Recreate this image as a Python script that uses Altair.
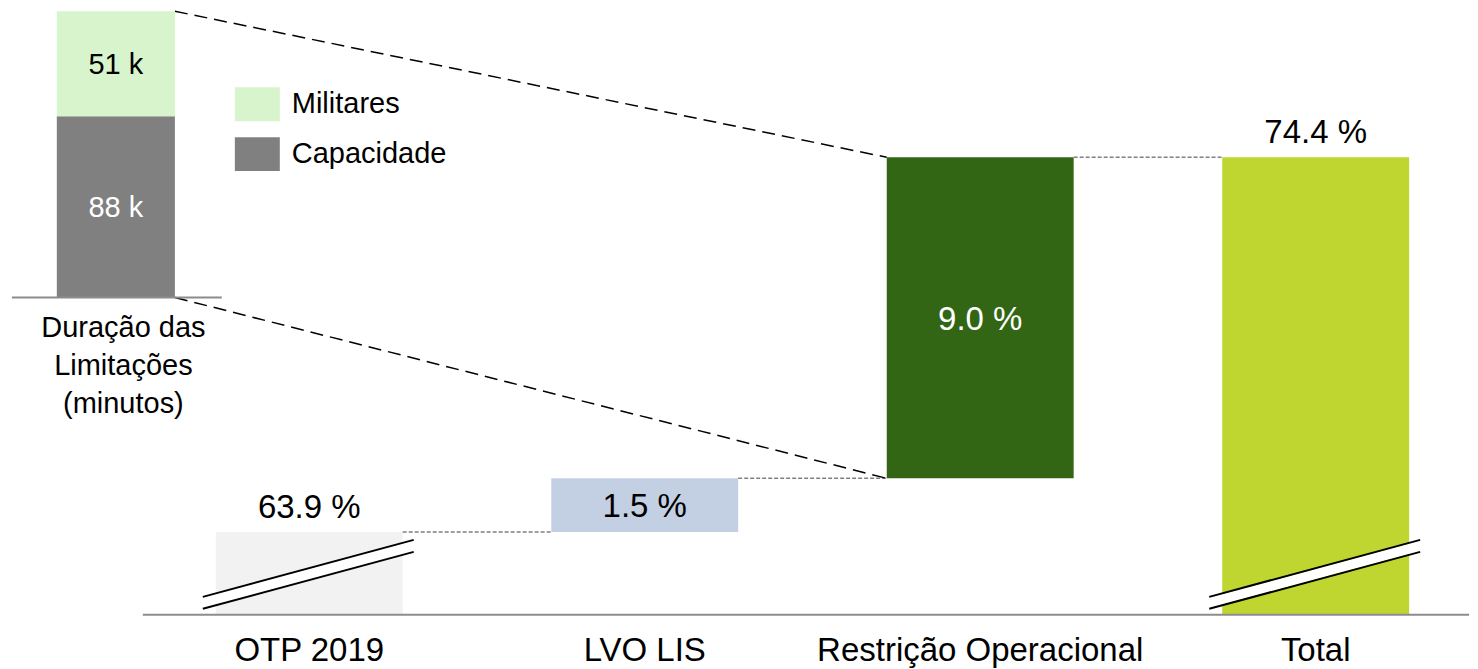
import altair as alt
import pandas as pd

# ---------------- data ----------------
categories = ["OTP 2019", "LVO LIS", "Restrição Operacional", "Total"]
values = [63.9, 1.5, 9.0, 74.4]
kinds = ["total", "delta", "delta", "total"]
value_labels = ["63.9 %", "1.5 %", "9.0 %", "74.4 %"]
label_modes = ["above", "inside", "inside", "above"]
label_colors = ["#000000", "#000000", "#ffffff", "#000000"]
bar_colors = ["#f2f2f2", "#c3cfe2", "#336614", "#bfd630"]
broken = [True, False, False, True]

limit_title = "Duração das\nLimitações\n(minutos)"
limit_segments = ["Capacidade", "Militares"]
limit_values = [88, 51]
limit_labels = ["88 k", "51 k"]
limit_label_colors = ["#ffffff", "#000000"]
limit_colors = ["#808080", "#d8f4cc"]
legend_order = ["Militares", "Capacidade"]

# ---------------- layout ----------------
W, H = 1462, 653
FONT = "Liberation Sans Narrow, Arial Narrow, Liberation Sans, sans-serif"
BIG, SMALL = 33, 29
X_DOM = [-0.898, 3.457]     # category slot scale
Y_DOM = [60.287, 78.578]    # main % scale (broken axis)
L_DOM = [-176.4, 140.47]    # left panel scale (k minutes)
BASE = 61.575               # value where the broken axis sits
HW = 0.2786                 # half bar width (main)
LX, LHW = -0.5765, 0.176    # left bar centre / half width
PXX = W / (X_DOM[1] - X_DOM[0])
PXY = H / (Y_DOM[1] - Y_DOM[0])
PXL = H / (L_DOM[1] - L_DOM[0])


def left_to_main(v):
    py = (L_DOM[1] - v) * PXL
    return Y_DOM[1] - py / PXY


xs = alt.Scale(domain=X_DOM, nice=False, zero=False)
ys = alt.Scale(domain=Y_DOM, nice=False, zero=False)
ls = alt.Scale(domain=L_DOM, nice=False, zero=False)


def X(f):
    return alt.X(f, type="quantitative", scale=xs, axis=None)


def X2(f):
    return alt.X2(f)


def Y(f, s=ys):
    return alt.Y(f, type="quantitative", scale=s, axis=None)


# ---------------- waterfall table ----------------
rows = []
run = BASE
for i, (c, v, k) in enumerate(zip(categories, values, kinds)):
    if k == "total":
        start, end = BASE, v
    else:
        start, end = run, run + v
    run = end
    rows.append(dict(cat=c, i=i, x=i - HW, x2=i + HW, start=start, end=end,
                     mid=(start + end) / 2, label=value_labels[i],
                     mode=label_modes[i], lcolor=label_colors[i],
                     color=bar_colors[i]))
wf = pd.DataFrame(rows)

bars = alt.Chart(wf).mark_rect().encode(
    x=X("x"), x2=X2("x2"), y=Y("start"), y2=alt.Y2("end"),
    color=alt.Color("color:N", scale=None))

above = alt.Chart(wf[wf["mode"] == "above"]).mark_text(
    font=FONT, fontSize=BIG, baseline="alphabetic", dy=-14).encode(
    x=X("i"), y=Y("end"), text="label:N", color=alt.Color("lcolor:N", scale=None))

inside = alt.Chart(wf[wf["mode"] == "inside"]).mark_text(
    font=FONT, fontSize=BIG, baseline="alphabetic", dy=12).encode(
    x=X("i"), y=Y("mid"), text="label:N", color=alt.Color("lcolor:N", scale=None))

catlab = alt.Chart(wf.assign(base=BASE)).mark_text(
    font=FONT, fontSize=BIG, baseline="alphabetic", dy=46, color="black").encode(
    x=X("i"), y=Y("base"), text="cat:N")

# connectors between consecutive bars
con = pd.DataFrame([dict(x=wf.x2[j], x2=wf.x[j + 1], y=wf.end[j]) for j in range(len(wf) - 1)])
connectors = alt.Chart(con).mark_rule(color="#808080", strokeWidth=1.5, strokeDash=[4, 2]).encode(
    x=X("x"), x2=X2("x2"), y=Y("y"))

# main axis line
axis_df = pd.DataFrame([dict(x=-0.496, x2=X_DOM[1], y=BASE)])
main_axis = alt.Chart(axis_df).mark_rule(color="#8c8c8c", strokeWidth=2).encode(
    x=X("x"), x2=X2("x2"), y=Y("y"))

# break marks
bk = []
for r in wf[[b for b in broken]].itertuples():
    xl = r.x - 13 / PXX
    xr = r.x2 + 11 / PXX
    bk.append(dict(kind="band", x=xl, x2=xr, y=BASE + 12 / PXY, y2=BASE + 69 / PXY))
    bk.append(dict(kind="line", x=xl, x2=xr, y=BASE + 18 / PXY, y2=BASE + 75 / PXY))
    bk.append(dict(kind="line", x=xl, x2=xr, y=BASE + 6 / PXY, y2=BASE + 63 / PXY))
bk = pd.DataFrame(bk)
break_band = alt.Chart(bk[bk.kind == "band"]).mark_rule(
    color="white", strokeWidth=10, strokeCap="butt").encode(
    x=X("x"), x2=X2("x2"), y=Y("y"), y2=alt.Y2("y2"))
break_lines = alt.Chart(bk[bk.kind == "line"]).mark_rule(
    color="black", strokeWidth=2).encode(
    x=X("x"), x2=X2("x2"), y=Y("y"), y2=alt.Y2("y2"))

# ---------------- left panel ----------------
lrows = []
acc = 0
for s, v, lab, lc in zip(limit_segments, limit_values, limit_labels, limit_label_colors):
    lrows.append(dict(seg=s, x=LX - LHW, x2=LX + LHW, xc=LX, y=acc, y2=acc + v,
                      mid=acc + v / 2, label=lab, lcolor=lc))
    acc += v
ldf = pd.DataFrame(lrows)
left_total = acc

cmap = dict(zip(limit_segments, limit_colors))
lbars = alt.Chart(ldf).mark_rect().encode(
    x=X("x"), x2=X2("x2"), y=Y("y", ls), y2=alt.Y2("y2"),
    color=alt.Color("seg:N",
                    scale=alt.Scale(domain=legend_order, range=[cmap[s] for s in legend_order]),
                    legend=alt.Legend(title=None, orient="none", legendX=227, legendY=73.5,
                                      symbolType="M-1,-0.755H1V0.755H-1Z", symbolSize=2025,
                                      symbolStrokeWidth=0, symbolOpacity=1,
                                      labelFont=FONT, labelFontSize=SMALL, labelColor="black",
                                      labelOffset=12, rowPadding=10, padding=0,
                                      labelLimit=400)))

llabels = alt.Chart(ldf).mark_text(font=FONT, fontSize=SMALL, baseline="alphabetic", dy=10.5).encode(
    x=X("xc"), y=Y("mid", ls), text="label:N", color=alt.Color("lcolor:N", scale=None))

laxis_df = pd.DataFrame([dict(x=LX - 0.31, x2=LX + 0.3158, y=0)])
left_axis = alt.Chart(laxis_df).mark_rule(color="#8c8c8c", strokeWidth=2).encode(
    x=X("x"), x2=X2("x2"), y=Y("y", ls))

ltitle = alt.Chart(pd.DataFrame([dict(x=LX + 0.0225, y=0, t=limit_title)])).mark_text(
    font=FONT, fontSize=SMALL, baseline="top", dy=17, lineHeight=38, lineBreak="\n",
    color="black").encode(x=X("x"), y=Y("y", ls), text="t:N")

# dashed zoom lines from the left bar to the operational-restriction bar
ro = wf.iloc[2]
zl = pd.DataFrame([
    dict(x=LX + LHW, y=left_to_main(left_total), x2=ro.x, y2=ro.end),
    dict(x=LX + LHW, y=left_to_main(0), x2=ro.x, y2=ro.start),
])
zoom_lines = alt.Chart(zl).mark_rule(color="black", strokeWidth=1.5, strokeDash=[13, 7]).encode(
    x=X("x"), x2=X2("x2"), y=Y("y"), y2=alt.Y2("y2"))

chart = alt.layer(
    bars, connectors, main_axis, break_band, break_lines, above, inside, catlab,
    zoom_lines, lbars, llabels, left_axis, ltitle,
).resolve_scale(y="independent").properties(
    width=W, height=H, padding=0
).configure_view(stroke=None)

chart.save("out.html", embed_options={"renderer": "svg", "actions": False})
